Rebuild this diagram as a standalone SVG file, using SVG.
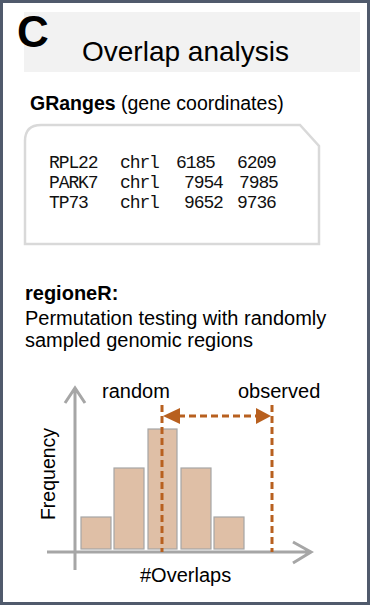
<svg xmlns="http://www.w3.org/2000/svg" width="371" height="609" viewBox="0 0 371 609">
<defs>
<style>
.sans{font-family:"Liberation Sans",Arial,sans-serif;fill:#000}
.mono{font-family:"Liberation Mono","Courier New",monospace;font-size:18px;letter-spacing:-1.1px;fill:#111}
.axis{stroke:#a6a6a6;stroke-width:3;fill:none}
.bar{fill:#dfbfa6;stroke:#a6a6a6;stroke-width:1.2}
.dash{stroke:#b8601f;stroke-width:3;stroke-dasharray:7 4;fill:none}
.head{fill:#b8601f}
</style>
</defs>
<rect x="1.5" y="1.5" width="367" height="602" fill="#fff" stroke="#505a6c" stroke-width="3"/>
<g id="title">
<rect x="24" y="12" width="336" height="60" fill="#f2f2f2"/>
<text class="sans" x="17" y="47" font-size="44" font-weight="bold">C</text>
<text class="sans" x="82" y="61" font-size="28">Overlap analysis</text>
</g>
<g id="granges">
<text class="sans" x="30" y="110" font-size="19.5"><tspan font-weight="bold">GRanges</tspan> (gene coordinates)</text>
<path d="M25,244 L25,141 Q25,125 41,125 L300,125 L319,146 L319,244 Z" fill="#fff" stroke="#d9d9d9" stroke-width="2.5"/>
<g class="mono">
<text x="49" y="168">RPL22</text><text x="120" y="168">chrl</text><text x="176" y="168">6185</text><text x="237" y="168">6209</text>
<text x="49" y="188">PARK7</text><text x="120" y="188">chrl</text><text x="184" y="188">7954</text><text x="239" y="188">7985</text>
<text x="49" y="208">TP73</text><text x="120" y="208">chrl</text><text x="184" y="208">9652</text><text x="237" y="208">9736</text>
</g>
</g>
<g id="regioner">
<text class="sans" x="25" y="300" font-size="20" font-weight="bold">regioneR:</text>
<text class="sans" x="25" y="325" font-size="20">Permutation testing with randomly</text>
<text class="sans" x="25" y="347" font-size="20">sampled genomic regions</text>
</g>
<g id="histogram">
<rect class="bar" x="81" y="517" width="30" height="32"/>
<rect class="bar" x="114" y="468" width="30" height="81"/>
<rect class="bar" x="148" y="429" width="29" height="120"/>
<rect class="bar" x="181" y="468" width="30" height="81"/>
<rect class="bar" x="214" y="517" width="30" height="32"/>
</g>
<g id="connectors">
<path class="axis" d="M75,570 L75,388 M65,403 L75,388 L85,403"/>
<path class="axis" d="M47,552 L311,552 M293,542 L311,552 L293,563"/>
<path class="dash" d="M162,405 L162,552"/>
<path class="dash" d="M272,405 L272,552"/>
<path class="dash" d="M178,416 L257,416"/>
<polygon class="head" points="163,416 180,408 180,424"/>
<polygon class="head" points="271,416 256,408 256,424"/>
</g>
<g id="labels">
<text class="sans" x="102" y="398" font-size="20">random</text>
<text class="sans" x="238" y="398" font-size="20">observed</text>
<text class="sans" x="140" y="582" font-size="20">#Overlaps</text>
<text class="sans" transform="translate(55,474) rotate(-90)" text-anchor="middle" font-size="19.5">Frequency</text>
</g>
</svg>
